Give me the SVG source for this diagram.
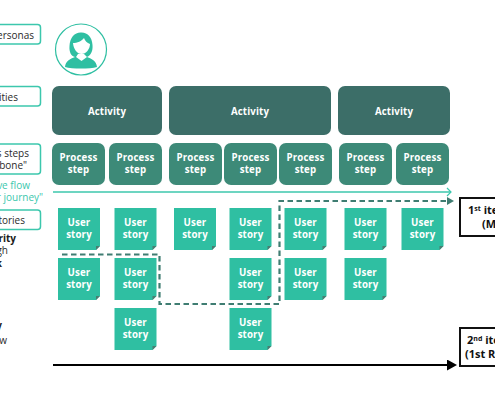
<svg xmlns="http://www.w3.org/2000/svg" width="495" height="400" viewBox="0 0 495 400">
<defs>
<style>
text{font-family:"Open Sans","Noto Sans","DejaVu Sans",sans-serif}
.lb{fill:#fff;stroke:#3cc7ad;stroke-width:1.5}
.lt{font-size:10px;fill:#2a2a2a;text-anchor:end}
.lg{font-size:10px;fill:#3cc7ad;text-anchor:end}
.lk{font-size:10px;font-weight:700;fill:#1a1a1a;text-anchor:end}
.a{fill:#3c6e68}
.p{fill:#3d8a78}
.s{fill:#2fbfa2}
.f{fill:#4a7d72}
.w{fill:#fff;font-size:9.700px;font-weight:700;text-anchor:middle;letter-spacing:.15px}
.it{fill:#fff;stroke:#111;stroke-width:2}
.ik{fill:#111;font-size:11px;font-weight:700}
.sup{font-size:7px}
</style>
<marker id="ah" markerWidth="7" markerHeight="8" refX="0" refY="4" orient="auto" markerUnits="userSpaceOnUse"><path d="M0 0L7 4L0 8Z" fill="#3f7d72"/></marker>
<marker id="bh" markerWidth="10" markerHeight="11" refX="1" refY="5.500" orient="auto" markerUnits="userSpaceOnUse"><path d="M0 0L10 5.500L0 11Z" fill="#000"/></marker>
<marker id="oh" markerWidth="6" markerHeight="10" refX="5" refY="5" orient="auto" markerUnits="userSpaceOnUse"><path d="M1 1L5 5L1 9" fill="none" stroke="#3cc7ad" stroke-width="1.200"/></marker>
<g id="st"><path class="s" d="M0 0H42V38L38 42H0Z"/><path class="f" d="M38 42V38H42Z"/><text class="w" x="21" y="18">User</text><text class="w" x="21" y="30">story</text></g>
<g id="ps"><text class="w" x="0" y="17.500">Process</text><text class="w" x="0" y="30">step</text></g>
</defs>

<g id="label-personas"><rect class="lb" x="-10" y="24.500" width="50.500" height="19.500" rx="3"/><text class="lt" x="34" y="38.500">ersonas</text></g>
<g id="label-activities"><rect class="lb" x="-10" y="86.500" width="50.500" height="19.500" rx="3"/><text class="lt" x="18" y="100.500">ities</text></g>
<g id="label-process"><rect class="lb" x="-10" y="144" width="50.500" height="30" rx="3"/><text class="lt" x="29" y="157">s steps</text><text class="lt" x="27" y="169">bone"</text></g>
<g id="label-flow"><text class="lg" x="30" y="189">ve flow</text><text class="lg" x="43" y="201">r journey"</text></g>
<g id="label-stories"><rect class="lb" x="-10" y="210" width="50.500" height="19.500" rx="3"/><text class="lt" x="25" y="224">tories</text></g>
<g id="label-priority"><text class="lk" x="16" y="242">rity</text><text class="lt" x="8" y="254">gh</text><text class="lk" x="2" y="267">k</text><text class="lk" x="2" y="329">y</text><text class="lt" x="7" y="344">w</text></g>

<g id="persona">
<circle cx="81" cy="49.500" r="25.500" fill="#fff" stroke="#2fbfa2" stroke-width="1.200"/>
<path fill="#2fbfa2" d="M65 67C65.500 61 70 59 75 57C71 56 69 52 69.500 46C70 37 75 32 81.500 32.500C88 33 92 37 92.500 45C93 51 91 55 87 57C92 59 96.500 61 97 67C90 69 72 69 65 67Z"/>
<path fill="#fff" d="M73 43C77 43 82 41 84 38C85 41 87 43 90 44C90 49 86 54 81.500 54C77 54 73.500 49 73 43Z"/>
<path fill="#fff" d="M76 57L81.500 61L87 57L84 54H78Z"/>
</g>

<g id="activity-1"><rect class="a" x="52" y="86" width="110" height="49" rx="7"/><text class="w" x="107" y="115">Activity</text></g>
<g id="activity-2"><rect class="a" x="169" y="86" width="162" height="49" rx="7"/><text class="w" x="250" y="115">Activity</text></g>
<g id="activity-3"><rect class="a" x="338" y="86" width="112" height="49" rx="7"/><text class="w" x="394" y="115">Activity</text></g>

<g id="step-1"><rect class="p" x="52" y="143" width="53" height="42" rx="7"/><use href="#ps" x="78.500" y="143"/></g>
<g id="step-2"><rect class="p" x="109" y="143" width="53" height="42" rx="7"/><use href="#ps" x="135.500" y="143"/></g>
<g id="step-3"><rect class="p" x="169" y="143" width="53" height="42" rx="7"/><use href="#ps" x="195.500" y="143"/></g>
<g id="step-4"><rect class="p" x="224" y="143" width="53" height="42" rx="7"/><use href="#ps" x="250.500" y="143"/></g>
<g id="step-5"><rect class="p" x="279" y="143" width="53" height="42" rx="7"/><use href="#ps" x="305.500" y="143"/></g>
<g id="step-6"><rect class="p" x="339" y="143" width="53" height="42" rx="7"/><use href="#ps" x="365.500" y="143"/></g>
<g id="step-7"><rect class="p" x="396" y="143" width="53" height="42" rx="7"/><use href="#ps" x="422.500" y="143"/></g>

<g id="story-1"><use href="#st" x="58" y="208"/></g>
<g id="story-2"><use href="#st" x="114.500" y="208"/></g>
<g id="story-3"><use href="#st" x="174" y="208"/></g>
<g id="story-4"><use href="#st" x="229.500" y="208"/></g>
<g id="story-5"><use href="#st" x="284.500" y="208"/></g>
<g id="story-6"><use href="#st" x="344.500" y="208"/></g>
<g id="story-7"><use href="#st" x="401.500" y="208"/></g>
<g id="story-8"><use href="#st" x="58" y="258"/></g>
<g id="story-9"><use href="#st" x="114.500" y="258"/></g>
<g id="story-10"><use href="#st" x="229.500" y="258"/></g>
<g id="story-11"><use href="#st" x="284.500" y="258"/></g>
<g id="story-12"><use href="#st" x="344.500" y="258"/></g>
<g id="story-13"><use href="#st" x="114.500" y="308"/></g>
<g id="story-14"><use href="#st" x="229.500" y="308"/></g>

<g id="connectors" fill="none">
<path d="M53 192H451" stroke="#3cc7ad" stroke-width="1.500" marker-end="url(#oh)"/>
<path d="M62 254.500H159.500V304H279.500V201H447" stroke="#3f7d72" stroke-width="2.200" stroke-dasharray="5.500 3.500" marker-end="url(#ah)"/>
<path d="M53 365H448" stroke="#000" stroke-width="2" marker-end="url(#bh)"/>
</g>

<g id="iteration-1"><rect class="it" x="460" y="198" width="50" height="38"/><text class="ik" x="468" y="214">1<tspan class="sup" dy="-3">st</tspan><tspan dy="3"> iteration</tspan></text><text class="ik" x="482" y="228">(MVP)</text></g>
<g id="iteration-2"><rect class="it" x="460" y="328" width="50" height="38"/><text class="ik" x="467" y="344">2<tspan class="sup" dy="-3">nd</tspan><tspan dy="3"> iteration</tspan></text><text class="ik" x="465" y="358">(1st Release)</text></g>
</svg>
